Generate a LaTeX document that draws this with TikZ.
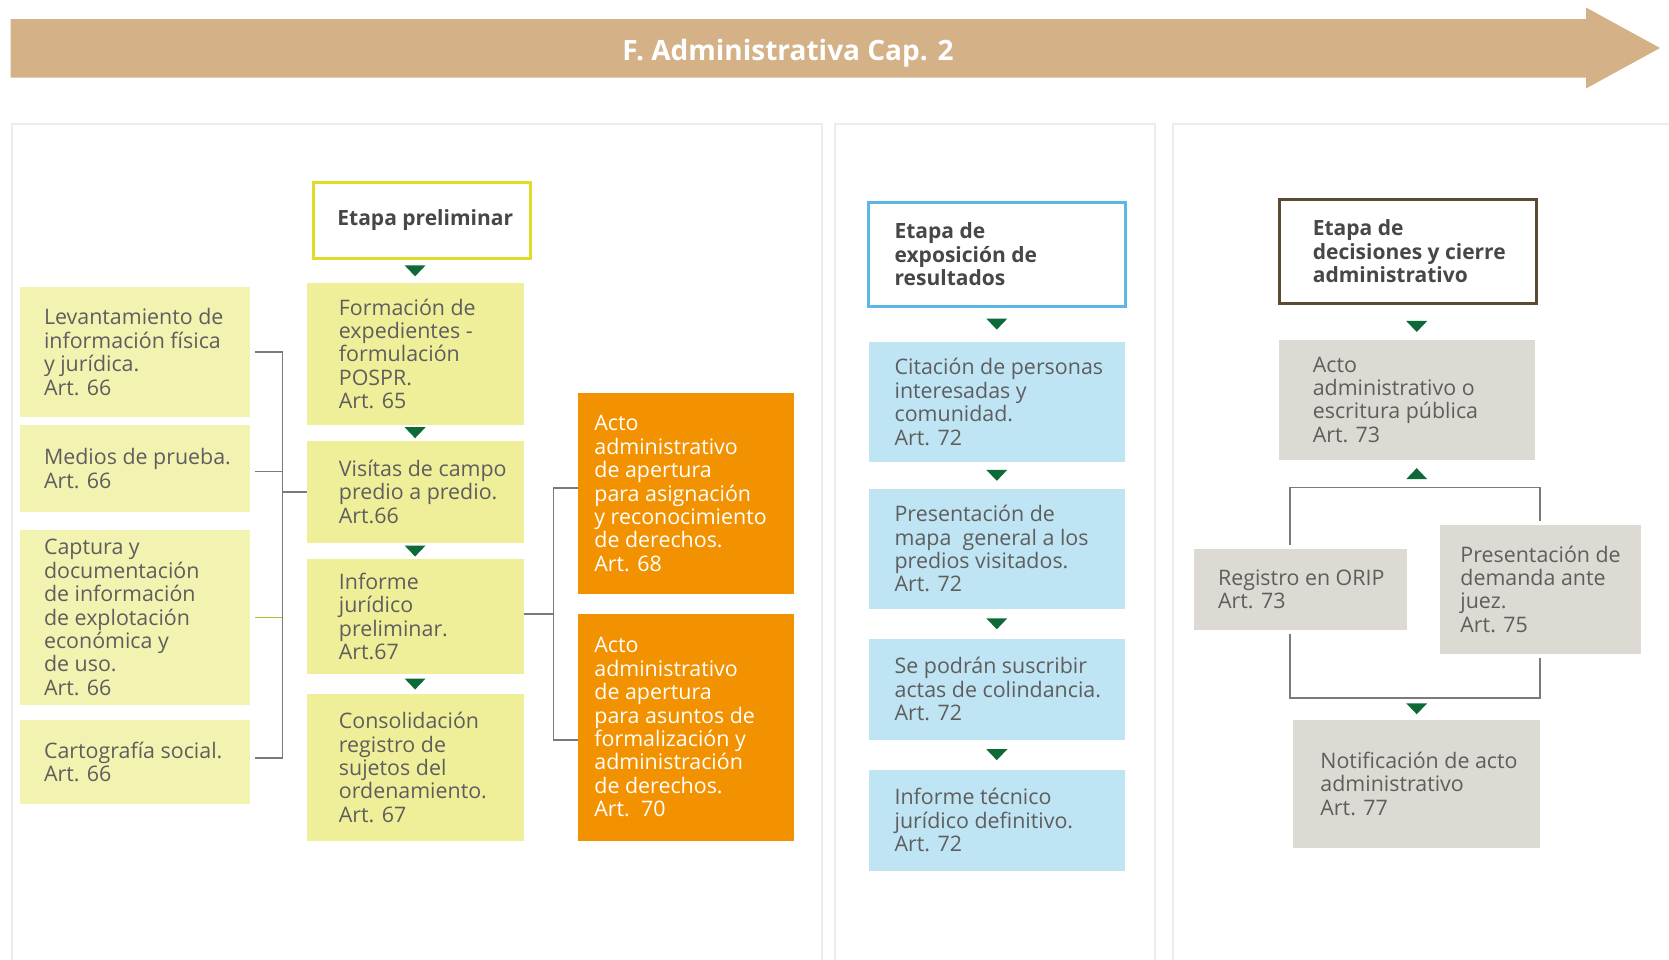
\documentclass[tikz,border=0pt]{standalone}
\usepackage{fontspec}
\setmainfont{Open Sans}
\usepackage{xcolor}
\usetikzlibrary{positioning,calc}

\definecolor{bannertan}{HTML}{D4B187}
\definecolor{ylight}{HTML}{F3F3B1}
\definecolor{ymid}{HTML}{F0EF99}
\definecolor{yline}{HTML}{E1DC28}
\definecolor{orangebox}{HTML}{F29200}
\definecolor{bluebox}{HTML}{BFE4F4}
\definecolor{blueline}{HTML}{5CB7E7}
\definecolor{graybox}{HTML}{DDD9D3}
\definecolor{brownline}{HTML}{5B4A36}
\definecolor{arrowgreen}{HTML}{0D6A36}
\definecolor{connline}{HTML}{7A7A7A}
\definecolor{limeline}{HTML}{A6C33C}
\definecolor{panelline}{HTML}{ECECEC}
\definecolor{textgray}{HTML}{5E5E5E}
\definecolor{headgray}{HTML}{474747}

% name, box style, text style, x1, y1, x2, y2, left pad, text
\newcommand{\caja}[9]{%
  \node[cajabox, #2, minimum width={(#6-#4)*0.5pt}, minimum height={(#7-#5)*0.5pt}] (#1) at (#4,#5) {};
  \node[#3] (#1-t) at ([shift={(#8,0)}]#1.west) {#9};
}
% small green triangles between two boxes
\newcommand{\tridown}[2]{%
  \path ($(#1.south)!.5!(#2.north)$) coordinate (m);
  \fill[arrowgreen] (m -| #2.north) +(-10.5,-5.5) -- +(10.5,-5.5) -- +(0,5.5) -- cycle;
}

\begin{document}
\begin{tikzpicture}[x=0.5pt, y=-0.5pt,
    cajabox/.style={anchor=north west, inner sep=0pt, outer sep=0pt},
    hyel/.style={fill=white, draw=yline, line width=1.5pt},
    hblue/.style={fill=white, draw=blueline, line width=1.5pt},
    hbrown/.style={fill=white, draw=brownline, line width=1.5pt},
    ylt/.style={fill=ylight}, ymd/.style={fill=ymid}, org/.style={fill=orangebox},
    blu/.style={fill=bluebox}, gry/.style={fill=graybox},
    txt/.style={anchor=west, align=left, inner sep=0pt, text=textgray, font=\fontsize{10.7}{11.7}\selectfont},
    wtxt/.style={txt, text=white},
    htxt/.style={txt, text=headgray, font=\bfseries\fontsize{10.5}{11.7}\selectfont},
    conn/.style={draw=connline, line width=0.8pt},
    panel/.style={draw=panelline, line width=1pt}]
    \useasboundingbox (0,0) rectangle (1669,959);
    \clip (0,0) rectangle (1669,959);

    % Banner
    \fill[bannertan] (10.6,19) -- (1586,19) -- (1586,7.5) -- (1660,48) -- (1586,88.5) -- (1586,77.7) -- (10.6,77.7) -- cycle;
    \node[text=white, font=\bfseries\fontsize{14}{16}\selectfont] (title) at (788,53) {F. Administrativa Cap. 2};

    % Panels
    \draw[panel] (11.7,970) |- (822,123.5) -- (822,970);
    \draw[panel] (834.5,970) |- (1155,123.5) -- (1155,970);
    \draw[panel] (1173,970) |- (1680,123.5);

    % Etapa preliminar
    \caja{pre}{hyel}{htxt}{313}{182}{530}{258.6}{24}{Etapa preliminar}
    \caja{lev}{ylt}{txt}{20}{287}{250}{417}{23.6}{Levantamiento de\\información física\\y jurídica.\\Art. 66}
    \caja{med}{ylt}{txt}{20}{425}{250}{512}{23.6}{Medios de prueba.\\Art. 66}
    \caja{cap}{ylt}{txt}{20}{530}{250}{705}{23.6}{Captura y\\documentación\\de información\\de explotación\\económica y\\de uso.\\Art. 66}
    \caja{cart}{ylt}{txt}{20}{719.5}{250}{804}{23.6}{Cartografía social.\\Art. 66}
    \caja{for}{ymd}{txt}{306.5}{283}{523.7}{424.7}{32}{Formación de\\expedientes -\\formulación\\POSPR.\\Art. 65}
    \caja{vis}{ymd}{txt}{306.5}{440.7}{523.7}{543}{32}{Visítas de campo\\predio a predio.\\Art.66}
    \caja{inf}{ymd}{txt}{306.5}{559}{523.7}{674}{32}{Informe\\jurídico\\preliminar.\\Art.67}
    \caja{con}{ymd}{txt}{306.5}{694}{523.7}{841}{32}{Consolidación\\registro de\\sujetos del\\ordenamiento.\\Art. 67}
    \caja{a68}{org}{wtxt}{578}{393}{793.5}{594}{16}{Acto\\administrativo\\de apertura\\para asignación\\y reconocimiento\\de derechos.\\Art. 68}
    \caja{a70}{org}{wtxt}{578}{614}{793.5}{840.5}{16}{Acto\\administrativo\\de apertura\\para asuntos de\\formalización y\\administración\\de derechos.\\Art.\ \ 70}

    \tridown{pre}{for}
    \tridown{for}{vis}
    \tridown{vis}{inf}
    \tridown{inf}{con}

    \path ([shift={(5,0)}]lev.east) coordinate (s1) ([shift={(5,3)}]med.east) coordinate (s2)
          ([shift={(5,0)}]cap.east) coordinate (s3) ([shift={(5,-4)}]cart.east) coordinate (s4);
    \draw[conn] (s1) -| ([shift={(27.5,0)}]s4) -- (s4);
    \draw[conn] (s2) -- ++(27.5,0);
    \draw[conn, draw=limeline] (s3) -- ++(27,0);
    \draw[conn] (vis.west) -- ++(-24,0);
    \draw[conn] ([shift={(0,-2.5)}]inf.east) -- ++(30,0);
    \draw[conn] ([shift={(0,-5.5)}]a68.west) -| ([shift={(-24.5,13)}]a70.west) -- ([shift={(0,13)}]a70.west);

    % Etapa de exposicion
    \caja{exp}{hblue}{htxt}{868.6}{202}{1125}{306.5}{25.6}{Etapa de\\exposición de\\resultados}
    \caja{cit}{blu}{txt}{868.6}{341.7}{1125}{462}{25.6}{Citación de personas\\interesadas y\\comunidad.\\Art. 72}
    \caja{map}{blu}{txt}{868.6}{488.6}{1125}{609}{25.6}{Presentación de\\mapa\ \ general a los\\predios visitados.\\Art. 72}
    \caja{sus}{blu}{txt}{868.6}{638.6}{1125}{739.8}{25.6}{Se podrán suscribir\\actas de colindancia.\\Art. 72}
    \caja{itj}{blu}{txt}{868.6}{769.6}{1125}{870.7}{25.6}{Informe técnico\\jurídico definitivo.\\Art. 72}

    \tridown{exp}{cit}
    \tridown{cit}{map}
    \tridown{map}{sus}
    \tridown{sus}{itj}

    % Etapa de decisiones
    \caja{dec}{hbrown}{htxt}{1279.4}{199}{1536}{303.4}{33}{Etapa de\\decisiones y cierre\\administrativo}
    \caja{aeo}{gry}{txt}{1279.4}{339.5}{1535}{459.8}{33}{Acto\\administrativo o\\escritura pública\\Art. 73}
    \caja{reg}{gry}{txt}{1194}{549}{1407}{630}{23.7}{Registro en ORIP\\Art. 73}
    \caja{dem}{gry}{txt}{1440}{524.7}{1641}{653.5}{20}{Presentación de\\demanda ante\\juez.\\Art. 75}
    \caja{not}{gry}{txt}{1293}{719.5}{1540}{848}{27}{Notificación de acto\\administrativo\\Art. 77}

    \coordinate (tl) at (1290,487.5);
    \coordinate (tr) at (1540,487.5);
    \coordinate (bl) at (1290,698);
    \coordinate (br) at (1540,698);
    \coordinate (ax) at (1416.7,0);
    \draw[conn] ($(tl |- reg.north)+(0,-4)$) -- (tl) -- (tr) -- ($(tr |- dem.north)+(0,-4)$);
    \draw[conn] ($(bl |- reg.south)+(0,4)$) -- (bl) -- (br) -- ($(br |- dem.south)+(0,4)$);
    \path ($(dec.south)!.5!(aeo.north)$) coordinate (mt);
    \fill[arrowgreen] ([shift={(0,5)}]mt -| ax) +(-10.5,-5.5) -- +(10.5,-5.5) -- +(0,5.5) -- cycle;
    \path ($(aeo.south)!.5!(tl)$) coordinate (mu);
    \fill[arrowgreen] (mu -| ax) +(-10.5,5.5) -- +(10.5,5.5) -- +(0,-5.5) -- cycle;
    \path ($(bl)!.5!(not.north west)$) coordinate (md);
    \fill[arrowgreen] (md -| ax) +(-10.5,-5.5) -- +(10.5,-5.5) -- +(0,5.5) -- cycle;
\end{tikzpicture}
\end{document}
